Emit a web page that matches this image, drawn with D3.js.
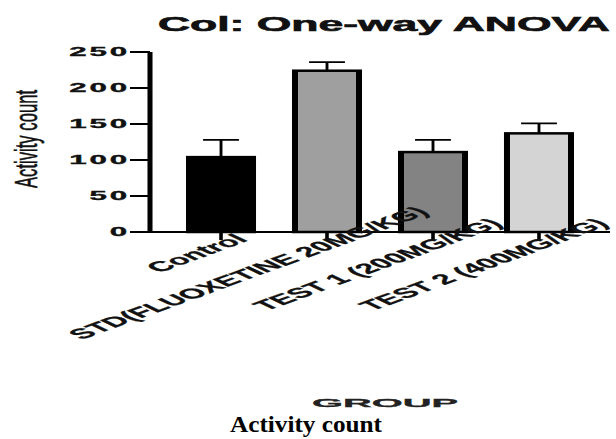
<!DOCTYPE html>
<html>
<head>
<meta charset="utf-8">
<script src="https://cdn.jsdelivr.net/npm/d3@7"></script>
<style>
  html, body { margin: 0; padding: 0; background: #fff; }
  svg { display: block; }
</style>
</head>
<body>
<svg id="chart" width="616" height="439"></svg>
<script>
// ---- data ----
const categories = ["Control", "STD(FLUOXETINE 20MG/KG)", "TEST 1 (200MG/KG)", "TEST 2 (400MG/KG)"];
const means = [104, 224, 111, 137];
const errors = [24, 12, 17, 14];
const fills = ["#000000", "#9f9f9f", "#838383", "#d4d4d4"];
const yTicks = [0, 50, 100, 150, 200, 250];
const titleText = "Col: One-way ANOVA";
const yLabel = "Activity count";
const xLabel = "GROUP";
const caption = "Activity count";

const data = categories.map((c, i) => ({ cat: c, mean: means[i], err: errors[i], fill: fills[i] }));

// ---- layout ----
const K = 2.4;           // horizontal stretch of the original picture
const svg = d3.select("#chart");
svg.append("rect").attr("width", 616).attr("height", 439).attr("fill", "#fff");

const x = d3.scaleBand().domain(categories)
  .range([150 / K, 610 / K]).paddingInner(0.396).paddingOuter(0.368);
const y = d3.scaleLinear().domain([0, 250]).range([232, 52]);

const plot = svg.append("g").attr("transform", `scale(${K},1)`);

// bars
plot.selectAll("rect.bar").data(data).join("rect")
  .attr("class", "bar")
  .attr("x", d => x(d.cat))
  .attr("width", x.bandwidth())
  .attr("y", d => y(d.mean))
  .attr("height", d => y(0) - y(d.mean))
  .attr("fill", d => d.fill)
  .attr("stroke", "#000")
  .attr("stroke-width", 2.5);

// error bars
const capHalf = x.bandwidth() * 0.28;
const eb = plot.selectAll("g.err").data(data).join("g").attr("class", "err");
eb.append("line")
  .attr("x1", d => x(d.cat) + x.bandwidth() / 2)
  .attr("x2", d => x(d.cat) + x.bandwidth() / 2)
  .attr("y1", d => y(d.mean))
  .attr("y2", d => y(d.mean + d.err))
  .attr("stroke", "#000").attr("stroke-width", 1.2);
eb.append("line")
  .attr("x1", d => x(d.cat) + x.bandwidth() / 2 - capHalf)
  .attr("x2", d => x(d.cat) + x.bandwidth() / 2 + capHalf)
  .attr("y1", d => y(d.mean + d.err))
  .attr("y2", d => y(d.mean + d.err))
  .attr("stroke", "#000").attr("stroke-width", 1.8);

// y axis
const yAxisG = plot.append("g")
  .attr("transform", `translate(${150 / K},0)`)
  .call(d3.axisLeft(y).tickValues(yTicks).tickSize(20 / K).tickSizeOuter(0).tickPadding(0).offset(0));
yAxisG.select(".domain").attr("stroke", "#000").attr("stroke-width", 2.1);
yAxisG.selectAll(".tick line").attr("stroke", "#000").attr("stroke-width", 2);
yAxisG.selectAll(".tick text")
  .attr("font-family", "'Liberation Sans', Arial, sans-serif")
  .attr("font-weight", "bold")
  .attr("font-size", 13)
  .attr("letter-spacing", 1.2)
  .attr("fill", "#111")
  .attr("stroke", "#111")
  .attr("stroke-width", 0.35);

// x axis
const xAxisG = plot.append("g")
  .attr("transform", `translate(0,${y(0)})`)
  .call(d3.axisBottom(x).tickSize(8).tickSizeOuter(0).tickFormat("").offset(0));
xAxisG.select(".domain").attr("stroke", "#000").attr("stroke-width", 2);
xAxisG.selectAll(".tick line").attr("stroke", "#000").attr("stroke-width", 1.5);

// x tick labels (rotated then stretched like the original)
const rot = 41.1;
const lab = svg.append("g");
lab.selectAll("text").data(categories).join("text")
  .attr("transform", d => `translate(${(x(d) + x.bandwidth() / 2) * K + 2},250) scale(${K},1) rotate(${-rot})`)
  .attr("text-anchor", "end")
  .attr("font-family", "'Liberation Sans', Arial, sans-serif")
  .attr("font-weight", "bold")
  .attr("font-size", 14)
  .attr("fill", "#111")
  .attr("stroke", "#111")
  .attr("stroke-width", 0.25)
  .text(d => d)
  .each(function () {
    const l = this.getComputedTextLength();
    d3.select(this).attr("x", 0.29 * l);
  });

// title
svg.append("text")
  .attr("x", 384).attr("y", 31)
  .attr("text-anchor", "middle")
  .attr("font-family", "'Liberation Sans', Arial, sans-serif")
  .attr("font-weight", "bold")
  .attr("font-size", 19.5)
  .attr("textLength", 452).attr("lengthAdjust", "spacingAndGlyphs")
  .attr("fill", "#111")
  .attr("stroke", "#111")
  .attr("stroke-width", 0.6)
  .text(titleText);

// y label
svg.append("text")
  .attr("transform", "translate(37,139) scale(2,1) rotate(-90)")
  .attr("text-anchor", "middle")
  .attr("font-family", "'Liberation Sans', Arial, sans-serif")
  .attr("font-size", 16)
  .attr("textLength", 98).attr("lengthAdjust", "spacingAndGlyphs")
  .attr("fill", "#111")
  .attr("stroke", "#111")
  .attr("stroke-width", 0.3)
  .text(yLabel);

// x label
svg.append("text")
  .attr("x", 385).attr("y", 407)
  .attr("text-anchor", "middle")
  .attr("font-family", "'Liberation Sans', Arial, sans-serif")
  .attr("font-weight", "bold")
  .attr("font-size", 11.7)
  .attr("textLength", 146).attr("lengthAdjust", "spacingAndGlyphs")
  .attr("fill", "#222")
  .attr("stroke", "#222")
  .attr("stroke-width", 0.3)
  .text(xLabel);

// caption
svg.append("text")
  .attr("x", 306).attr("y", 432)
  .attr("text-anchor", "middle")
  .attr("font-family", "'Liberation Serif', 'Times New Roman', serif")
  .attr("font-weight", "bold")
  .attr("font-size", 24)
  .attr("textLength", 152).attr("lengthAdjust", "spacingAndGlyphs")
  .attr("fill", "#000")
  .text(caption);
</script>
</body>
</html>
